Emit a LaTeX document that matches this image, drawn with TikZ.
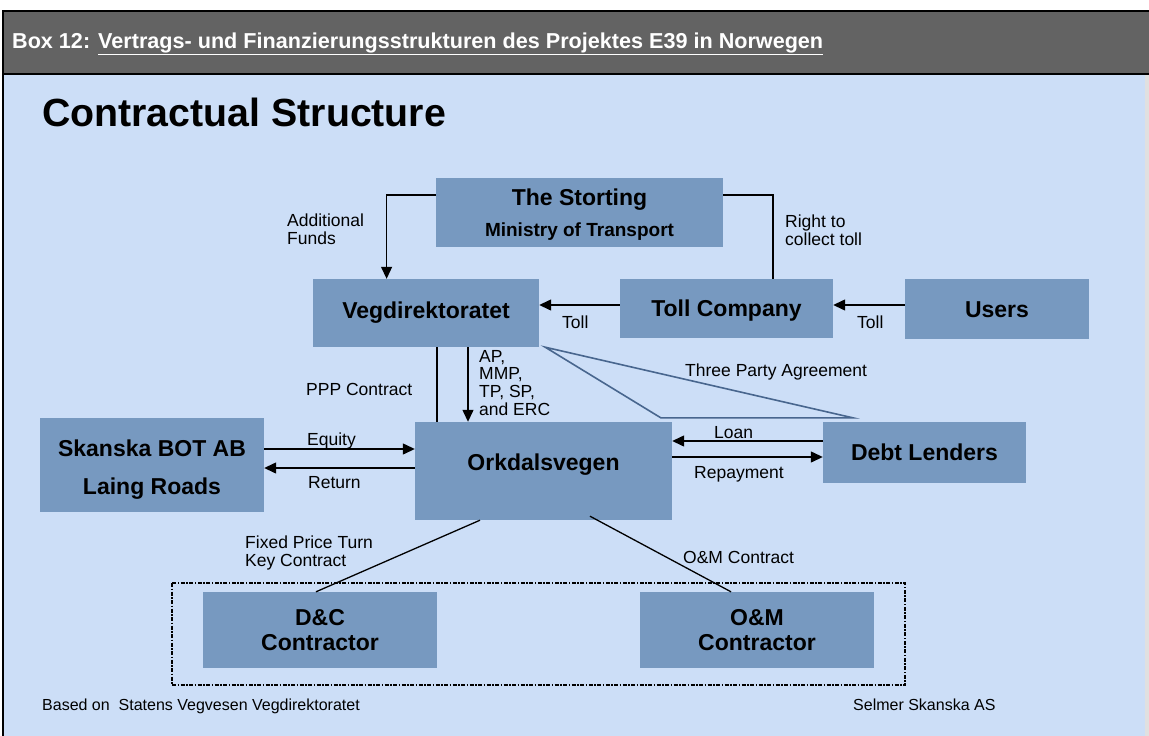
\documentclass[tikz,border=0pt]{standalone}
\usepackage{fontspec}
\setmainfont{Liberation Sans}
\usetikzlibrary{arrows.meta,calc}
\definecolor{hdr}{RGB}{99,99,99}
\definecolor{bgc}{RGB}{204,222,247}
\definecolor{boxc}{RGB}{119,153,192}
\definecolor{tric}{RGB}{72,102,142}
\definecolor{edgec}{RGB}{224,224,224}
\begin{document}
\begin{tikzpicture}[x=1pt,y=-1pt,
  box/.style={fill=boxc, draw=none, inner sep=0pt, align=center,
    font=\fontsize{23}{27}\selectfont\bfseries},
  lbl/.style={inner sep=0pt, align=left, font=\fontsize{17.5}{17.7}\selectfont},
  foot/.style={inner sep=0pt, anchor=base west, font=\fontsize{16}{18}\selectfont},
  arr/.style={line width=1.3pt, -{Triangle[length=12pt,width=11pt]}},
  ln/.style={line width=1.3pt},
  tri/.style={line width=1.6pt, draw=tric},
  grp/.style={line width=1.3pt, dash pattern=on 4pt off 1.5pt on 1.5pt off 1.5pt},
]
\useasboundingbox (0,0) rectangle (1149,736);
\fill[white] (0,0) rectangle (1149,736);
\fill[hdr] (2,10) rectangle (1149,73);
\fill[bgc] (4,75) rectangle (1145,736);
\fill[edgec] (1145,75) rectangle (1149,736);
\draw[line width=2pt] (1149,11) -- (3,11) -- (3,736);
\draw[line width=2pt] (3,74) -- (1149,74);

% header and title
\node[anchor=base west, inner sep=0pt, text=white, font=\fontsize{21.6}{24}\selectfont\bfseries] (hd) at (12,48)
  {Box 12: \underline{Vertrags- und Finanzierungsstrukturen des Projektes E39 in Norwegen}};
\node[anchor=base west, inner sep=0pt, font=\fontsize{39.3}{40}\selectfont\bfseries] (title) at (42,126) {Contractual Structure};

% boxes
\node[box, minimum width=287pt, minimum height=69pt] (st) at (579.5,212.5)
  {\rule{0pt}{20pt}The Storting\\[4pt]{\fontsize{19}{27}\selectfont Ministry of Transport}};
\node[box, minimum width=226pt, minimum height=68pt] (vd) at (426,313) {Vegdirektoratet};
\node[box, minimum width=213pt, minimum height=59pt, text height=16.5pt, text depth=-3pt] (tc) at (726.5,308.5) {Toll Company};
\node[box, minimum width=184pt, minimum height=60pt, text height=16.5pt, text depth=0pt] (us) at (997,309) {Users};
\node[box, minimum width=224pt, minimum height=94pt] (sk) at (152,465)
  {\rule{0pt}{26.8pt}Skanska BOT AB\\[11pt]Laing Roads};
\node[box, minimum width=257pt, minimum height=98pt, text height=16.5pt, text depth=18pt] (ork) at (543.5,471) {Orkdalsvegen};
\node[box, minimum width=203pt, minimum height=61pt, text height=16.5pt, text depth=0pt] (dl) at (924.5,452.5) {Debt Lenders};
\node[box, minimum width=234pt, minimum height=76pt] (dc) at (320,630) {D\&C\\[-2pt]Contractor};
\node[box, minimum width=234pt, minimum height=76pt] (om) at (757,630) {O\&M\\[-2pt]Contractor};

% group
\draw[grp] (172,583) rectangle (905,685);

% connectors
\draw[arr] ([yshift=17.5pt]st.west) -| ([xshift=-39.4pt]vd.north);
\draw[ln] ([yshift=17.5pt]st.east) -| ([xshift=46.5pt]tc.north);
\draw[arr] ([yshift=3.5pt]tc.west) -- ([yshift=3.5pt]tc.west -| vd.east);
\draw[arr] ([yshift=4pt]us.west) -- ([yshift=4pt]us.west -| tc.east);
\draw[ln] ([xshift=11pt]vd.south) -- ([xshift=11pt]vd.south |- ork.north);
\draw[arr] ([xshift=42pt]vd.south) -- ([xshift=42pt]vd.south |- ork.north);
\draw[tri] ([xshift=6pt]vd.south east) -- ([xshift=30pt,yshift=4pt]dl.north west)
  -- ([xshift=-162pt,yshift=4pt]dl.north west) -- cycle;
\draw[arr] ([yshift=16pt]sk.east) -- ([yshift=16pt]sk.east -| ork.west);
\draw[arr] ([yshift=3pt]ork.west) -- ([yshift=3pt]ork.west -| sk.east);
\draw[arr] ([yshift=11.5pt]dl.west) -- ([yshift=11.5pt]dl.west -| ork.east);
\draw[arr] ([yshift=14pt]ork.east) -- ([yshift=14pt]ork.east -| dl.west);
\draw[ln] ([xshift=-63.5pt]ork.south) -- ([xshift=-4pt]dc.north);
\draw[ln] ([xshift=46.5pt,yshift=4pt]ork.south) -- ([xshift=-26pt]om.north);

% labels
\node[lbl, anchor=north west] (l1) at (287,214) {Additional\\Funds};
\node[lbl, anchor=north west] (l2) at (785,215) {Right to\\collect toll};
\node[lbl, anchor=base west] (l3) at (562,328) {Toll};
\node[lbl, anchor=base west] (l4) at (857,328) {Toll};
\node[lbl, anchor=base west] (l5) at (306,395) {PPP Contract};
\node[lbl, anchor=north west] (l6) at (479,350) {AP,\\MMP,\\TP, SP,\\and ERC};
\node[lbl, anchor=base west] (l7) at (685,376) {Three Party Agreement};
\node[lbl, anchor=base west] (l8) at (307,445) {Equity};
\node[lbl, anchor=base west] (l9) at (308,488) {Return};
\node[lbl, anchor=base west] (l10) at (714,438) {Loan};
\node[lbl, anchor=base west] (l11) at (694,478) {Repayment};
\node[lbl, anchor=north west] (l12) at (245,536) {Fixed Price Turn\\Key Contract};
\node[lbl, anchor=base west] (l13) at (683,563) {O\&M Contract};

% footer
\node[foot] (f1) at (42,710) {Based on~ Statens Vegvesen Vegdirektoratet};
\node[foot] (f2) at (853,710) {Selmer Skanska AS};
\end{tikzpicture}
\end{document}
